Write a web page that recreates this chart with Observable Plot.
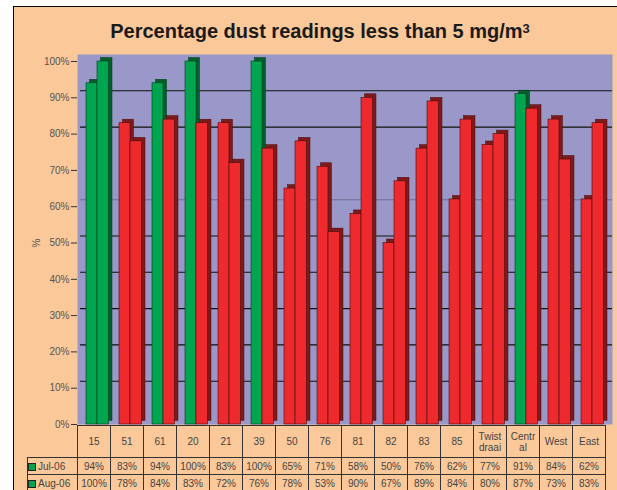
<!DOCTYPE html>
<html>
<head>
<meta charset="utf-8">
<script src="https://cdn.jsdelivr.net/npm/d3@7"></script>
<script src="https://cdn.jsdelivr.net/npm/@observablehq/plot@0.6"></script>
<style>
  body { margin: 0; background: #fff; font-family: "Liberation Sans", Arial, sans-serif; }
  #box { position: absolute; left: 13px; top: 6px; width: 640px; height: 520px; background: #fbc899; border: 1px solid #000; }
  #title { position: absolute; left: 13px; top: 20px; width: 614px; text-align: center; font-size: 20px; line-height: 22px; font-weight: bold; color: #1a1a1a; }
  #title sup { font-size: 13px; vertical-align: 5px; line-height: 0; }
  #chart { position: absolute; left: 14px; top: 46px; }
  #tbl { position: absolute; left: 27px; top: 425px; border-collapse: collapse; table-layout: fixed; font-size: 10px; color: #444; }
  #tbl td { border: 1px solid #333; text-align: center; padding: 0 2px; overflow: hidden; }
  #tbl td.blank { border: none; }
  #tbl tr.cat td { height: 31px; line-height: 11px; overflow-wrap: anywhere; }
  #tbl tr.val td { height: 16px; padding: 0; }
  #tbl td.lab { text-align: left; white-space: nowrap; padding-left: 3px; }
  .key { display: inline-block; width: 6px; height: 6px; background: #00a54f; border: 1px solid #222; margin-right: 2px; vertical-align: -1px; }
</style>
</head>
<body>
<div id="box"></div>
<div id="title">Percentage dust readings less than 5 mg/m<sup>3</sup></div>
<div id="chart"></div>
<table id="tbl"></table>
<script>
// ---- data ----
const categories = ["15", "51", "61", "20", "21", "39", "50", "76", "81", "82", "83", "85", "Twist draai", "Central", "West", "East"];
const seriesNames = ["Jul-06", "Aug-06"];
const jul06 = [94, 83, 94, 100, 83, 100, 65, 71, 58, 50, 76, 62, 77, 91, 84, 62];
const aug06 = [100, 78, 84, 83, 72, 76, 78, 53, 90, 67, 89, 84, 80, 87, 73, 83];
const yTicks = [0, 10, 20, 30, 40, 50, 60, 70, 80, 90, 100];
const gridLines = [10, 20, 30, 40, 50, 60, 80, 90];
const target = 90;

// ---- build rows ----
const rows = categories.flatMap((c, i) => [
  {cat: c, series: seriesNames[0], value: jul06[i]},
  {cat: c, series: seriesNames[1], value: aug06[i]}
]);
const julRows = rows.filter(d => d.series === seriesNames[0]);
const augRows = rows.filter(d => d.series === seriesNames[1]);

const front = d => d.value > target ? "#00a54f" : "#ee2a2e";
const side = d => d.value > target ? "#005f2b" : "#7e1a1a";
const edge = d => d.value > target ? "#003a1a" : "#4a0c0c";

function barPair(data, insetLeft, insetRight) {
  return [
    Plot.barY(data, {x: "cat", y: "value", fill: side, stroke: edge, strokeWidth: 0.5, insetLeft, insetRight, dx: 3.5, dy: -3.5}),
    Plot.barY(data, {x: "cat", y: "value", fill: front, stroke: edge, strokeWidth: 0.6, insetLeft, insetRight})
  ];
}

const chart = Plot.plot({
  width: 603,
  height: 379,
  marginLeft: 63,
  marginRight: 12,
  marginTop: 15,
  marginBottom: 1,
  style: {background: "transparent", overflow: "visible", fontFamily: "Liberation Sans, Arial, sans-serif", fontSize: "10px", color: "#555"},
  x: {domain: categories, padding: 0, axis: null},
  y: {domain: [0, 100]},
  color: {type: "identity"},
  marks: [
    Plot.frame({fill: "#9998c9", stroke: "none", insetTop: -7, insetRight: -7}),
    Plot.ruleY(gridLines, {stroke: d => d === 60 ? "#6f6f90" : "#111", strokeWidth: 1.1, dy: -7, insetLeft: 3, insetRight: -7}),
    ...barPair(julRows, 9, 13),
    ...barPair(augRows, 20, 1.5),
    Plot.axisY({ticks: yTicks, tickFormat: d => d + "%", tickSize: 6, tickPadding: 2, stroke: "#333",
      label: "%", labelAnchor: "center", labelOffset: 45, labelArrow: "none"})
  ]
});
document.getElementById("chart").appendChild(chart);

// ---- data table ----
const tbl = document.getElementById("tbl");
const colgroup = document.createElement("colgroup");
const c0 = document.createElement("col"); c0.style.width = "50px"; colgroup.appendChild(c0);
categories.forEach(() => { const c = document.createElement("col"); c.style.width = "33px"; colgroup.appendChild(c); });
tbl.appendChild(colgroup);
const catRow = document.createElement("tr"); catRow.className = "cat";
const blank = document.createElement("td"); blank.className = "blank"; catRow.appendChild(blank);
categories.forEach(c => { const td = document.createElement("td"); td.textContent = c; catRow.appendChild(td); });
tbl.appendChild(catRow);
[[seriesNames[0], jul06], [seriesNames[1], aug06]].forEach(([name, vals]) => {
  const tr = document.createElement("tr"); tr.className = "val";
  const lab = document.createElement("td"); lab.className = "lab";
  lab.innerHTML = '<span class="key"></span>' + name;
  tr.appendChild(lab);
  vals.forEach(v => { const td = document.createElement("td"); td.textContent = v + "%"; tr.appendChild(td); });
  tbl.appendChild(tr);
});
</script>
</body>
</html>
